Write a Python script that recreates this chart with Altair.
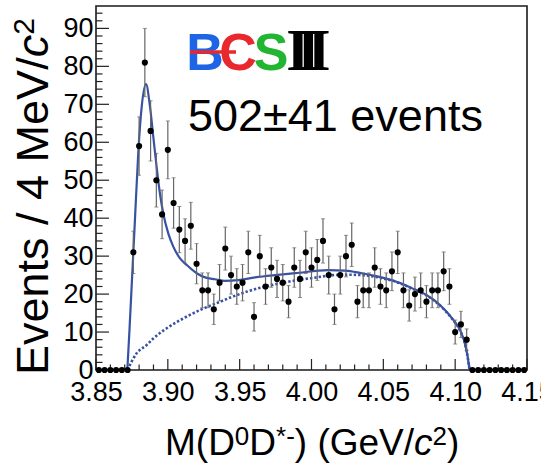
import altair as alt
import numpy as np
import pandas as pd

# ---------------- data ----------------
# counts per 4 MeV bin, bins from 3.850 to 4.150 GeV
counts = [0, 0, 0, 0, 0, 0, 31, 59, 81, 63, 50, 41, 58, 44, 37, 34,
          38, 28, 21, 21, 16, 23, 32, 25, 22, 23,
          31, 14, 30, 22, 27, 24, 23, 18, 27, 24,
          31, 27, 29, 34, 25, 16, 25, 30, 33, 18,
          21, 21, 27, 22, 21, 26, 31, 21, 17, 20,
          21, 18, 21, 21, 26, 22, 10, 12, 8,
          0, 0, 0, 0, 0, 0, 0, 0, 0, 0]
bin_centers = [round(3.852 + 0.004 * i, 3) for i in range(len(counts))]

# total fit (solid)
fit_x = [3.8718, 3.8733, 3.8748, 3.8771, 3.8794, 3.8818, 3.8848, 3.8876, 3.8899,
         3.8922, 3.8945, 3.8968, 3.9003, 3.9038, 3.9085, 3.9131, 3.9201, 3.9259,
         3.9328, 3.9398, 3.9490, 3.9607, 3.9746, 3.9885, 4.0117, 4.0233, 4.0349,
         4.0465, 4.0581, 4.0651, 4.0720, 4.0790, 4.0860, 4.0929, 4.0987, 4.1034,
         4.1068, 4.1087, 4.1100]
fit_y = [0, 10.5, 21.9, 39.5, 57.1, 69.3, 75.3, 69.3, 61.4,
         53.5, 46.5, 41.3, 36.0, 32.5, 29.4, 27.7, 25.5, 24.4,
         23.9, 23.5, 23.7, 24.4, 25.0, 25.5, 26.3, 26.2, 25.5,
         24.6, 23.4, 22.4, 21.2, 20.0, 18.2, 15.8, 13.2, 10.5,
         7.0, 3.5, 0]
# background (dotted)
bg_x = [3.8719, 3.8783, 3.8853, 3.8899, 3.8992, 3.9108, 3.9224, 3.9340, 3.9456,
        3.9572, 3.9688, 3.9804, 3.9920, 4.0036, 4.0149, 4.0268, 4.0349, 4.0465,
        4.0581, 4.0651, 4.0720, 4.0790, 4.0860, 4.0929, 4.0987, 4.1034, 4.1068,
        4.1087, 4.1100]
bg_y = [0, 4.4, 6.6, 8.3, 11.0, 13.6, 15.8, 17.6, 19.4,
        20.9, 22.1, 23.0, 23.8, 24.4, 25.0, 25.1, 25.0, 24.4,
        23.3, 22.3, 21.1, 19.9, 18.1, 15.7, 13.1, 10.4, 6.9,
        3.4, 0]

x_major = [3.85, 3.90, 3.95, 4.00, 4.05, 4.10, 4.15]
x_minor = [round(3.85 + 0.01 * i, 2) for i in range(31) if i % 5]
y_major = [0, 10, 20, 30, 40, 50, 60, 70, 80, 90]
y_minor = [v for v in range(2, 96, 2) if v % 10]

# ---------------- layout ----------------
W, H = 431, 364
L, T = 96, 6
BLUE = "#3852a3"

xs = alt.Scale(domain=[3.85, 4.15], nice=False, zero=False)
ys = alt.Scale(domain=[0, 95.9], nice=False, zero=False)
xaxis = alt.Axis(values=x_major, format=".2f", labelFontSize=27, labelFont="Liberation Sans",
                 labelColor="black", tickSize=0, domain=False, grid=False, labelPadding=9,
                 labelFlush=False, labelOverlap=False, labelBound=False, title=None)
yaxis = alt.Axis(values=y_major, format="d", labelFontSize=27, labelFont="Liberation Sans",
                 labelColor="black", tickSize=0, domain=False, grid=False, labelPadding=3,
                 labelFlush=False, labelOverlap=False, labelBound=False, title=None)

def X(f="m"):
    return alt.X(f"{f}:Q", scale=xs, axis=xaxis)

def Y(f="v"):
    return alt.Y(f"{f}:Q", scale=ys, axis=yaxis)

hist = pd.DataFrame({"m": bin_centers, "v": counts})
hist["lo"] = hist["v"] - np.sqrt(hist["v"])
hist["hi"] = hist["v"] + np.sqrt(hist["v"])
fit = pd.DataFrame({"m": fit_x, "v": fit_y})
bg = pd.DataFrame({"m": bg_x, "v": bg_y})

layers = []
# inward ticks
for vals, ln in [(x_major, 11), (x_minor, 5.5)]:
    layers.append(alt.Chart(pd.DataFrame({"m": vals})).mark_rule(color="#222", strokeWidth=1.2)
                  .encode(x=X(), y=alt.value(H), y2=alt.value(H - ln)))
for vals, ln in [(y_major, 13), (y_minor, 6.5)]:
    layers.append(alt.Chart(pd.DataFrame({"v": vals})).mark_rule(color="#222", strokeWidth=1.2)
                  .encode(y=Y(), x=alt.value(0), x2=alt.value(ln)))

# curves
layers.append(alt.Chart(bg).mark_line(color=BLUE, strokeWidth=2.6, strokeDash=[2.4, 2],
                                      interpolate="monotone").encode(x=X(), y=Y()))
layers.append(alt.Chart(fit).mark_line(color=BLUE, strokeWidth=2.2,
                                       interpolate="monotone").encode(x=X(), y=Y()))
# error bars
layers.append(alt.Chart(hist).mark_rule(color="#666", strokeWidth=1.2)
              .encode(x=X(), y=Y("lo"), y2=alt.Y2("hi:Q")))
for f in ["lo", "hi"]:
    layers.append(alt.Chart(hist).mark_tick(orient="horizontal", size=4, thickness=1, color="#666")
                  .encode(x=X(), y=Y(f)))
layers.append(alt.Chart(hist).mark_circle(size=38, color="black", opacity=1)
              .encode(x=X(), y=Y("v")))

# ---------------- text ----------------
one = pd.DataFrame({"a": [0]})

def txt(s, cx, cy, size, color="black", font="Liberation Sans", style="normal",
        weight="normal", angle=0, align="left"):
    return (alt.Chart(one)
            .mark_text(text=s, fontSize=size, font=font, fontStyle=style, fontWeight=weight,
                       color=color, angle=angle, align=align, baseline="alphabetic")
            .encode(x=alt.value(cx - L), y=alt.value(cy - T)))

WID = {'M': .833, '(': .333, ')': .333, 'D': .722, '0': .556, '*': .389, '-': .333,
       ' ': .278, 'G': .778, 'e': .556, 'V': .667, '/': .278, 'c': .5, '2': .556,
       'E': .667, 'v': .5, 'n': .556, 't': .278, 's': .5, '4': .556}

def wid(s, fs):
    return sum(WID[ch] for ch in s) * fs

# x title
fsx, fsx2, rx = 37, 26, 10
xpieces = [("M(D", fsx, "normal", 0), ("0", fsx2, "normal", rx), ("D", fsx, "normal", 0),
           ("*-", fsx2, "normal", rx), (")", fsx, "normal", 0), (" ", fsx, "normal", 0),
           ("(GeV/", fsx, "normal", 0), ("c", fsx, "italic", 0), ("2", fsx2, "normal", rx),
           (")", fsx, "normal", 0)]
cx = 165
for s, fs, st, r in xpieces:
    if s.strip():
        layers.append(txt(s, cx, 455 - r, fs, style=st))
    cx += wid(s, fs)

# y title (rotated)
fsy, fsy2, ry = 45, 30, 14
cy = 375
for s, fs, st, r in [("Events / 4 MeV/", fsy, "normal", 0), ("c", fsy, "italic", 0),
                     ("2", fsy2, "normal", ry)]:
    layers.append(txt(s, 48 - r, cy, fs, style=st, angle=270))
    cy -= wid(s, fs)

# BESIII logo
LB = 70
layers.append(txt("B", 205, LB, 52, color="#1e64e6", weight="bold", align="center"))
layers.append(txt("C", 238, LB, 52, color="#e8282d", weight="bold", align="center"))
layers.append(alt.Chart(one).mark_rule(color="#e8282d", strokeWidth=3.5)
              .encode(x=alt.value(190 - L), x2=alt.value(236 - L), y=alt.value(LB - 18 - T)))
layers.append(txt("S", 271, LB, 52, color="#21b532", weight="bold", align="center"))
for c in [298, 308.5, 319]:
    layers.append(txt("I", c, LB, 60, font="Liberation Serif", weight="bold", align="center"))

layers.append(txt("502±41 events", 188, 131, 45))

chart = (alt.layer(*layers)
         .properties(width=W, height=H, background="white",
                     padding={"left": L, "top": T, "right": 541 - L - W, "bottom": 463 - T - H},
                     autosize=alt.AutoSizeParams(type="none"))
         .configure_view(stroke="#1a1a1a", strokeWidth=1.6))

chart.save("out.html", embed_options={"renderer": "svg", "actions": False})
